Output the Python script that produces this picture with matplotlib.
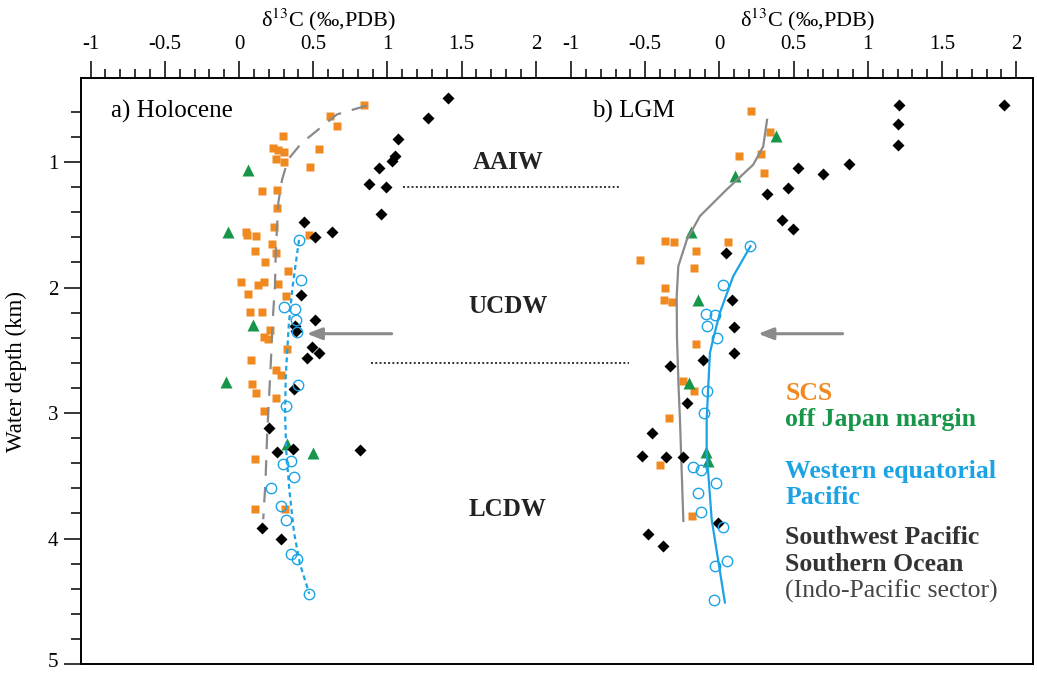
import matplotlib
matplotlib.use("Agg")
import matplotlib.pyplot as plt
import matplotlib.transforms as mtransforms
import numpy as np

plt.rcParams['font.family'] = ['Liberation Serif', 'DejaVu Serif']
plt.rcParams['mathtext.fontset'] = 'stix'

# ---- data : (d13C, depth km) ----
hol_scs = np.array([
    (0.844, 0.544), (0.615, 0.629), (0.662, 0.714), (0.294, 0.791), (0.226, 0.889),
    (0.265, 0.902), (0.302, 0.916), (0.541, 0.892), (0.246, 0.976), (0.302, 1.003),
    (0.480, 1.040), (0.154, 1.234), (0.255, 1.220), (0.255, 1.366), (0.237, 1.517),
    (0.044, 1.560), (0.051, 1.584), (0.116, 1.592), (0.471, 1.581), (0.219, 1.655),
    (0.246, 1.724), (0.109, 1.708), (0.175, 1.795), (0.327, 1.870), (0.011, 1.952),
    (0.130, 1.976), (0.170, 1.958), (0.260, 1.971), (0.060, 2.050), (0.316, 2.069),
    (0.071, 2.193), (0.152, 2.193), (0.207, 2.340), (0.170, 2.393), (0.197, 2.408),
    (0.323, 2.488), (0.078, 2.581), (0.246, 2.660), (0.280, 2.695), (0.085, 2.772),
    (0.114, 2.838), (0.251, 2.883), (0.170, 2.984), (0.109, 3.363), (0.109, 3.761),
    (0.309, 3.761)])
hol_japan = np.array([
    (0.060, 1.061), (-0.073, 1.560), (0.092, 2.300), (-0.088, 2.753), (0.321, 3.249),
    (0.500, 3.321)])
hol_swp = np.array([
    (1.408, 0.489), (1.273, 0.648), (1.073, 0.817), (1.051, 0.950), (1.033, 0.995),
    (0.943, 1.048), (0.873, 1.175), (0.988, 1.202), (0.954, 1.414), (0.440, 1.480),
    (0.511, 1.597), (0.624, 1.560), (0.417, 2.056), (0.511, 2.260), (0.377, 2.308),
    (0.381, 2.348), (0.493, 2.472), (0.540, 2.525), (0.460, 2.560), (0.370, 2.811),
    (0.203, 3.116), (0.253, 3.307), (0.365, 3.289), (0.815, 3.297), (0.156, 3.917),
    (0.282, 4.005)])
hol_wep = np.array([
    (0.404, 1.621), (0.415, 1.937), (0.300, 2.157), (0.377, 2.170), (0.381, 2.255),
    (0.388, 2.355), (0.395, 2.780), (0.316, 2.944), (0.348, 3.382), (0.298, 3.403),
    (0.372, 3.506), (0.213, 3.594), (0.282, 3.740), (0.314, 3.851), (0.350, 4.127),
    (0.388, 4.164), (0.473, 4.440)])
hol_grey_line = np.array([
    (0.86, 0.55), (0.66, 0.62), (0.42, 0.85), (0.33, 0.98), (0.29, 1.14), (0.265, 1.32),
    (0.253, 1.59), (0.246, 1.78), (0.242, 1.99), (0.23, 2.2), (0.213, 2.626),
    (0.19, 3.156), (0.178, 3.55), (0.163, 3.846)])
hol_blue_line = np.array([
    (0.404, 1.62), (0.36, 2.0), (0.335, 2.3), (0.315, 2.7), (0.31, 3.0), (0.318, 3.3),
    (0.338, 3.6), (0.37, 3.95), (0.41, 4.2), (0.473, 4.44)])

lgm_scs = np.array([
    (0.216, 0.592), (0.344, 0.761), (0.133, 0.950), (0.279, 0.939), (0.297, 1.090),
    (-0.364, 1.629), (-0.306, 1.640), (0.055, 1.636), (-0.534, 1.777), (-0.158, 1.708),
    (-0.169, 1.846), (-0.364, 2.005), (-0.373, 2.101), (-0.317, 2.117), (-0.158, 2.446),
    (-0.243, 2.745), (-0.171, 2.825), (-0.339, 3.042), (-0.400, 3.414), (-0.183, 3.819)])
lgm_japan = np.array([
    (0.380, 0.796), (0.106, 1.114), (-0.194, 1.560), (-0.142, 2.101), (-0.205, 2.758),
    (-0.091, 3.310), (-0.075, 3.382)])
lgm_swp = np.array([
    (1.92, 0.545), (1.21, 0.545), (1.20, 0.70), (1.20, 0.86), (0.872, 1.016),
    (0.532, 1.045), (0.696, 1.099), (0.463, 1.207), (0.319, 1.258), (0.420, 1.459),
    (0.499, 1.531), (0.042, 1.724), (0.084, 2.101), (0.097, 2.313), (0.097, 2.520),
    (-0.109, 2.575), (-0.333, 2.626), (-0.220, 2.923), (-0.452, 3.161), (-0.519, 3.342),
    (-0.362, 3.350), (-0.247, 3.347), (-0.008, 3.877), (-0.478, 3.965), (-0.382, 4.063)])
lgm_wep = np.array([
    (0.209, 1.671), (0.026, 1.981), (-0.093, 2.207), (-0.030, 2.215), (-0.086, 2.308),
    (-0.019, 2.400), (-0.082, 2.825), (-0.104, 2.997), (-0.176, 3.430), (-0.124, 3.454),
    (-0.026, 3.554), (-0.147, 3.639), (-0.126, 3.787), (0.026, 3.912), (0.052, 4.177),
    (-0.030, 4.217), (-0.035, 4.490)])
lgm_grey_line = np.array([
    (0.321, 0.663), (0.295, 0.876), (0.228, 1.02), (0.048, 1.22), (-0.131, 1.43),
    (-0.220, 1.62), (-0.277, 1.83), (-0.288, 2.07), (-0.286, 2.4), (-0.275, 2.8),
    (-0.266, 3.05), (-0.243, 3.86)])
lgm_blue_line = np.array([
    (0.209, 1.671), (0.093, 1.91), (0.003, 2.20), (-0.042, 2.41), (-0.064, 2.52),
    (-0.086, 3.05), (-0.086, 3.31), (-0.052, 3.85), (0.037, 4.51)])

tick_vals = [-1, -0.5, 0, 0.5, 1, 1.5, 2]
tick_labels = ["-1", "-0.5", "0", "0.5", "1", "1.5", "2"]
water_masses = ["AAIW", "UCDW", "LCDW"]
water_mass_depth = [1.0, 2.15, 3.77]

ORANGE = "#F0891F"
GREEN = "#17964A"
BLUE = "#1CA3E6"
GREY = "#8A8A8A"
OFF = 3.237  # second panel shifted along the shared axis

fig = plt.figure(figsize=(10.37, 6.73), dpi=100)
ax = fig.add_axes([80.7 / 1037, 9 / 673, (1033 - 80.7) / 1037, (664 - 78) / 673])
ax.set_xlim(-1.067, 5.35)
ax.set_ylim(4.99, 0.33)

for off, scs, jap, swp, wep, gl, bl, gstyle, bstyle in [
        (0, hol_scs, hol_japan, hol_swp, hol_wep, hol_grey_line, hol_blue_line,
         (0, (7, 5)), (0, (2.2, 1.6))),
        (OFF, lgm_scs, lgm_japan, lgm_swp, lgm_wep, lgm_grey_line, lgm_blue_line,
         '-', '-')]:
    ax.plot(scs[:, 0] + off, scs[:, 1], 's', color=ORANGE, ms=6.3, mec='none', zorder=3)
    ax.plot(jap[:, 0] + off, jap[:, 1], '^', color=GREEN, ms=9, mec='none', zorder=3)
    ax.plot(gl[:, 0] + off, gl[:, 1], color=GREY, lw=1.6, linestyle=gstyle, zorder=4)
    ax.plot(swp[:, 0] + off, swp[:, 1], 'D', color='black', ms=6.3, mec='none', zorder=5)
    ax.plot(bl[:, 0] + off, bl[:, 1], color=BLUE, lw=1.6, linestyle=bstyle, zorder=6)
    ax.plot(wep[:, 0] + off, wep[:, 1], 'o', mfc='none', mec=BLUE, mew=1.0, ms=7.5, zorder=7)

# top axis with two scales
ax.xaxis.tick_top()
major = [v for v in tick_vals] + [v + OFF for v in tick_vals]
ax.set_xticks(major)
ax.set_xticklabels(tick_labels + tick_labels)
minor = [round(v, 1) for v in np.arange(-1, 2.01, 0.1)]
ax.set_xticks(minor + [v + OFF for v in minor], minor=True)
ax.tick_params(axis='x', which='major', length=12, width=1.1, labelsize=15, pad=5)
ax.tick_params(axis='x', which='minor', length=6.5, width=1.1)

ax.set_yticks([1, 2, 3, 4, 5])
ax.set_yticks(np.arange(0.6, 5.0, 0.2), minor=True)
ax.tick_params(axis='y', which='major', length=12, width=1.1, labelsize=15, pad=4)
ax.tick_params(axis='y', which='minor', length=7.5, width=1.1)
ax.set_ylabel("Water depth (km)", fontsize=16.5)
ax.yaxis.set_label_coords(-0.056, 0.5)
for s in ax.spines.values():
    s.set_linewidth(1.4)
# keep the bottom "5" inside the picture
last = ax.get_yticklabels()[-1]
last.set_transform(last.get_transform() +
                   mtransforms.ScaledTranslation(0, 3 / 72, fig.dpi_scale_trans))

for xc in [0.6, 0.595 + OFF]:
    ax.text(xc, 1.1, "δ$^{13}$C (‰,PDB)", transform=ax.get_xaxis_transform(),
            ha='center', va='center', fontsize=16)

ax.text(-0.86, 0.6, "a) Holocene", fontsize=18, va='center')
ax.text(-0.86 + OFF, 0.6, "b) LGM", fontsize=18, va='center')

for name, d in zip(water_masses, water_mass_depth):
    ax.text(1.812, d, name, fontsize=18, fontweight='bold', ha='center', va='center',
            color='#222222')

ax.plot([1.106, 2.562], [1.202, 1.202], color='#333333', lw=1.4, linestyle=(0, (1, 1.2)))
ax.plot([0.887, 2.629], [2.605, 2.605], color='#333333', lw=1.4, linestyle=(0, (1, 1.2)))

for x0, x1 in [(1.028, 0.456), (4.067, 3.498)]:
    ax.annotate("", xy=(x1, 2.368), xytext=(x0, 2.368),
                arrowprops=dict(arrowstyle='-|>,head_length=0.9,head_width=0.35',
                                color=GREY, lw=2.2, shrinkA=0, shrinkB=0))

lx = 3.68
fs = 18.5
ax.text(lx, 2.845, "SCS", color=ORANGE, fontsize=fs, fontweight='bold', va='center')
ax.text(lx, 3.055, "off Japan margin", color=GREEN, fontsize=fs, fontweight='bold', va='center')
ax.text(lx, 3.465, "Western equatorial", color=BLUE, fontsize=fs, fontweight='bold', va='center')
ax.text(lx, 3.675, "Pacific", color=BLUE, fontsize=fs, fontweight='bold', va='center')
ax.text(lx, 3.99, "Southwest Pacific", color='#333333', fontsize=fs, fontweight='bold', va='center')
ax.text(lx, 4.205, "Southern Ocean", color='#333333', fontsize=fs, fontweight='bold', va='center')
ax.text(lx, 4.42, "(Indo-Pacific sector)", color='#444444', fontsize=fs, va='center')

fig.savefig("out.png", dpi=100)
